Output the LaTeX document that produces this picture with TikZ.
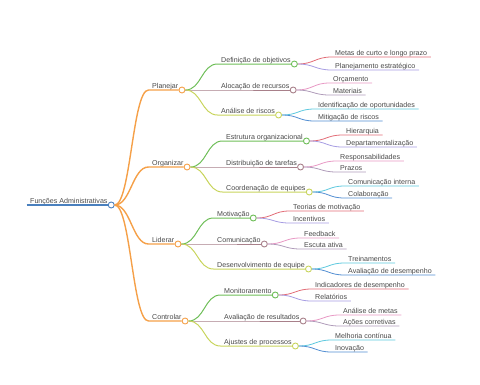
\documentclass[tikz,border=0pt]{standalone}
\usepackage{fontspec}
\setmainfont{Liberation Sans}
\usetikzlibrary{positioning}
\definecolor{mmink}{RGB}{72,72,72}
\definecolor{mmroot}{RGB}{74,128,190}
\definecolor{mmorange}{RGB}{245,160,72}
\definecolor{mmgreen}{RGB}{110,190,88}
\definecolor{mmmauve}{RGB}{168,128,138}
\definecolor{mmlime}{RGB}{200,212,92}
\definecolor{mmred}{RGB}{226,108,118}
\definecolor{mmlav}{RGB}{166,156,226}
\definecolor{mmpink}{RGB}{232,152,196}
\definecolor{mmplum}{RGB}{176,156,186}
\definecolor{mmcyan}{RGB}{92,200,222}
\definecolor{mmblue}{RGB}{82,142,210}
\tikzset{
mmtext/.style={anchor=south west,text depth=0pt,inner xsep=3.5pt,inner ysep=1.8pt,text=mmink,font=\fontsize{7.1}{8}\selectfont},
mmdot/.style={circle,draw,fill=white,inner sep=0pt,minimum size=6pt,line width=0.9pt},
mmcurve/.style={to path={.. controls +(16,0) and +(-16,0) .. (\tikztotarget)}},
lvl0/.style={draw=mmroot,line width=1.4pt},
lvl1/.style={draw=mmorange,line width=1.4pt},
lvl2/.style={line width=1pt},
lvl3/.style={line width=0.8pt}
}
\begin{document}
\begin{tikzpicture}[x=1pt,y=-1pt]
\useasboundingbox (0,0) rectangle (480,384);
% root
\node[mmtext] (fa) at (26.5,205) {Funções Administrativas};
\node[mmdot,draw=mmroot] (fadot) at (fa.south east) {};
% first level
\node[mmtext] (plan) at (148.5,90) {Planejar};
\node[mmtext] (org) at (148.5,167) {Organizar};
\node[mmtext] (lid) at (148.5,244) {Liderar};
\node[mmtext] (ctrl) at (148.5,321) {Controlar};
\node[mmdot,draw=mmorange] (plandot) at (plan.south east) {};
\node[mmdot,draw=mmorange] (orgdot) at (org.south east) {};
\node[mmdot,draw=mmorange] (liddot) at (lid.south east) {};
\node[mmdot,draw=mmorange] (ctrldot) at (ctrl.south east) {};
% second level
\node[mmtext] (defobj) at (217.5,64) {Definição de objetivos};
\node[mmtext] (alocrec) at (217.5,90) {Alocação de recursos};
\node[mmtext] (anris) at (217.5,115) {Análise de riscos};
\node[mmtext] (estorg) at (222.5,141) {Estrutura organizacional};
\node[mmtext] (distar) at (222.5,167) {Distribuição de tarefas};
\node[mmtext] (coordeq) at (222.5,192) {Coordenação de equipes};
\node[mmtext] (motiv) at (213.5,218) {Motivação};
\node[mmtext] (comun) at (213.5,244) {Comunicação};
\node[mmtext] (deseq) at (213.5,269) {Desenvolvimento de equipe};
\node[mmtext] (monit) at (220.5,295) {Monitoramento};
\node[mmtext] (avres) at (220.5,321) {Avaliação de resultados};
\node[mmtext] (ajproc) at (220.5,346) {Ajustes de processos};
\node[mmdot,draw=mmgreen] (defobjdot) at (defobj.south east) {};
\node[mmdot,draw=mmmauve] (alocrecdot) at (alocrec.south east) {};
\node[mmdot,draw=mmlime] (anrisdot) at (anris.south east) {};
\node[mmdot,draw=mmgreen] (estorgdot) at (estorg.south east) {};
\node[mmdot,draw=mmmauve] (distardot) at (distar.south east) {};
\node[mmdot,draw=mmlime] (coordeqdot) at (coordeq.south east) {};
\node[mmdot,draw=mmgreen] (motivdot) at (motiv.south east) {};
\node[mmdot,draw=mmmauve] (comundot) at (comun.south east) {};
\node[mmdot,draw=mmlime] (deseqdot) at (deseq.south east) {};
\node[mmdot,draw=mmgreen] (monitdot) at (monit.south east) {};
\node[mmdot,draw=mmmauve] (avresdot) at (avres.south east) {};
\node[mmdot,draw=mmlime] (ajprocdot) at (ajproc.south east) {};
% leaves
\node[mmtext] (metas) at (331.5,57) {Metas de curto e longo prazo};
\node[mmtext] (planest) at (331.5,70) {Planejamento estratégico};
\node[mmtext] (orcam) at (329.5,83) {Orçamento};
\node[mmtext] (mater) at (329.5,95) {Materiais};
\node[mmtext] (idop) at (314.5,109) {Identificação de oportunidades};
\node[mmtext] (mitig) at (314.5,121) {Mitigação de riscos};
\node[mmtext] (hier) at (342.5,135) {Hierarquia};
\node[mmtext] (depto) at (342.5,147) {Departamentalização};
\node[mmtext] (resp) at (336.5,161) {Responsabilidades};
\node[mmtext] (prazos) at (336.5,172) {Prazos};
\node[mmtext] (comint) at (344.5,186) {Comunicação interna};
\node[mmtext] (colab) at (344.5,198) {Colaboração};
\node[mmtext] (teor) at (289.5,211) {Teorias de motivação};
\node[mmtext] (incent) at (289.5,223) {Incentivos};
\node[mmtext] (feedb) at (300.5,238) {Feedback};
\node[mmtext] (escuta) at (300.5,249) {Escuta ativa};
\node[mmtext] (trein) at (344.5,263) {Treinamentos};
\node[mmtext] (avdes) at (344.5,275) {Avaliação de desempenho};
\node[mmtext] (indic) at (311.5,289) {Indicadores de desempenho};
\node[mmtext] (relat) at (311.5,301) {Relatórios};
\node[mmtext] (anmet) at (339.5,315) {Análise de metas};
\node[mmtext] (acoes) at (339.5,326) {Ações corretivas};
\node[mmtext] (melh) at (331.5,340) {Melhoria contínua};
\node[mmtext] (inov) at (331.5,352) {Inovação};
% connectors
\draw[lvl0] (fa.south west) -- (fadot);
\draw[lvl1] (fadot.east) to[mmcurve] (plan.south west) -- (plandot);
\draw[lvl1] (fadot.east) to[mmcurve] (org.south west) -- (orgdot);
\draw[lvl1] (fadot.east) to[mmcurve] (lid.south west) -- (liddot);
\draw[lvl1] (fadot.east) to[mmcurve] (ctrl.south west) -- (ctrldot);
\draw[lvl2,draw=mmgreen] (plandot.east) to[mmcurve] (defobj.south west) -- (defobjdot);
\draw[lvl2,draw=mmmauve] (plandot.east) to[mmcurve] (alocrec.south west) -- (alocrecdot);
\draw[lvl2,draw=mmlime] (plandot.east) to[mmcurve] (anris.south west) -- (anrisdot);
\draw[lvl2,draw=mmgreen] (orgdot.east) to[mmcurve] (estorg.south west) -- (estorgdot);
\draw[lvl2,draw=mmmauve] (orgdot.east) to[mmcurve] (distar.south west) -- (distardot);
\draw[lvl2,draw=mmlime] (orgdot.east) to[mmcurve] (coordeq.south west) -- (coordeqdot);
\draw[lvl2,draw=mmgreen] (liddot.east) to[mmcurve] (motiv.south west) -- (motivdot);
\draw[lvl2,draw=mmmauve] (liddot.east) to[mmcurve] (comun.south west) -- (comundot);
\draw[lvl2,draw=mmlime] (liddot.east) to[mmcurve] (deseq.south west) -- (deseqdot);
\draw[lvl2,draw=mmgreen] (ctrldot.east) to[mmcurve] (monit.south west) -- (monitdot);
\draw[lvl2,draw=mmmauve] (ctrldot.east) to[mmcurve] (avres.south west) -- (avresdot);
\draw[lvl2,draw=mmlime] (ctrldot.east) to[mmcurve] (ajproc.south west) -- (ajprocdot);
\draw[lvl3,draw=mmred] (defobjdot.east) to[mmcurve] (metas.south west) -- (metas.south east);
\draw[lvl3,draw=mmlav] (defobjdot.east) to[mmcurve] (planest.south west) -- (planest.south east);
\draw[lvl3,draw=mmpink] (alocrecdot.east) to[mmcurve] (orcam.south west) -- (orcam.south east);
\draw[lvl3,draw=mmplum] (alocrecdot.east) to[mmcurve] (mater.south west) -- (mater.south east);
\draw[lvl3,draw=mmcyan] (anrisdot.east) to[mmcurve] (idop.south west) -- (idop.south east);
\draw[lvl3,draw=mmblue] (anrisdot.east) to[mmcurve] (mitig.south west) -- (mitig.south east);
\draw[lvl3,draw=mmred] (estorgdot.east) to[mmcurve] (hier.south west) -- (hier.south east);
\draw[lvl3,draw=mmlav] (estorgdot.east) to[mmcurve] (depto.south west) -- (depto.south east);
\draw[lvl3,draw=mmpink] (distardot.east) to[mmcurve] (resp.south west) -- (resp.south east);
\draw[lvl3,draw=mmplum] (distardot.east) to[mmcurve] (prazos.south west) -- (prazos.south east);
\draw[lvl3,draw=mmcyan] (coordeqdot.east) to[mmcurve] (comint.south west) -- (comint.south east);
\draw[lvl3,draw=mmblue] (coordeqdot.east) to[mmcurve] (colab.south west) -- (colab.south east);
\draw[lvl3,draw=mmred] (motivdot.east) to[mmcurve] (teor.south west) -- (teor.south east);
\draw[lvl3,draw=mmlav] (motivdot.east) to[mmcurve] (incent.south west) -- (incent.south east);
\draw[lvl3,draw=mmpink] (comundot.east) to[mmcurve] (feedb.south west) -- (feedb.south east);
\draw[lvl3,draw=mmplum] (comundot.east) to[mmcurve] (escuta.south west) -- (escuta.south east);
\draw[lvl3,draw=mmcyan] (deseqdot.east) to[mmcurve] (trein.south west) -- (trein.south east);
\draw[lvl3,draw=mmblue] (deseqdot.east) to[mmcurve] (avdes.south west) -- (avdes.south east);
\draw[lvl3,draw=mmred] (monitdot.east) to[mmcurve] (indic.south west) -- (indic.south east);
\draw[lvl3,draw=mmlav] (monitdot.east) to[mmcurve] (relat.south west) -- (relat.south east);
\draw[lvl3,draw=mmpink] (avresdot.east) to[mmcurve] (anmet.south west) -- (anmet.south east);
\draw[lvl3,draw=mmplum] (avresdot.east) to[mmcurve] (acoes.south west) -- (acoes.south east);
\draw[lvl3,draw=mmcyan] (ajprocdot.east) to[mmcurve] (melh.south west) -- (melh.south east);
\draw[lvl3,draw=mmblue] (ajprocdot.east) to[mmcurve] (inov.south west) -- (inov.south east);
\end{tikzpicture}
\end{document}
